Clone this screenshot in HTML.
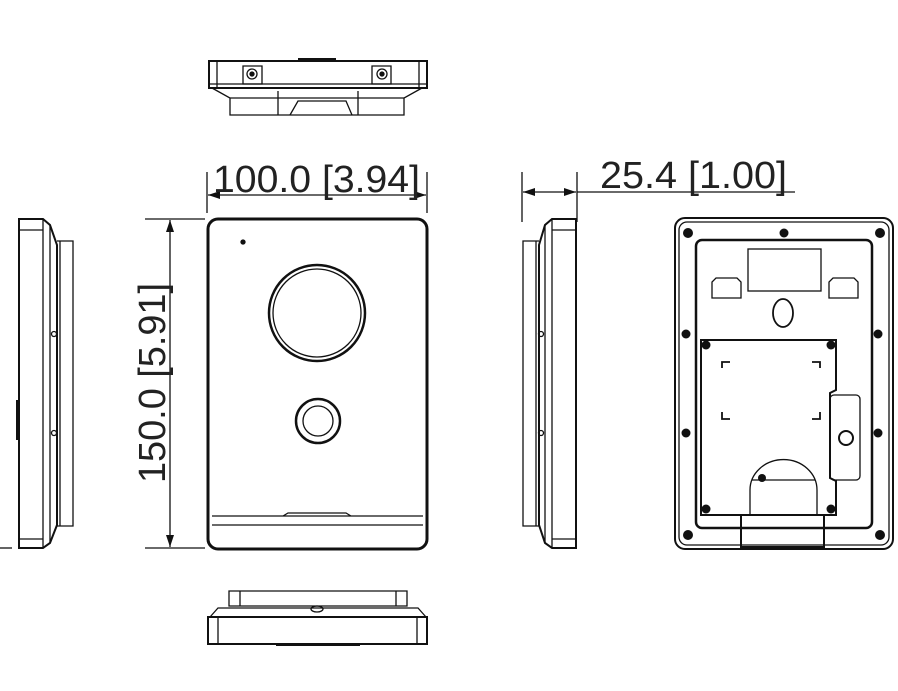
<!DOCTYPE html>
<html><head><style>html,body{margin:0;padding:0;background:#fff;width:898px;height:691px;overflow:hidden}</style></head>
<body>
<svg width="898" height="691" viewBox="0 0 898 691" xmlns="http://www.w3.org/2000/svg" fill="none" stroke="#111" stroke-width="1.3">
<defs>
<marker id="a" markerWidth="12" markerHeight="8" refX="12" refY="4" orient="auto" markerUnits="userSpaceOnUse"><path d="M0,0 L12,4 L0,8 Z" fill="#111" stroke="none"/></marker>
</defs>
<!-- top view -->
<path d="M209,61 H427 V88 H209 Z" stroke-width="2"/>
<line x1="217" y1="61" x2="217" y2="88"/><line x1="419" y1="61" x2="419" y2="88"/>
<line x1="209" y1="84" x2="427" y2="84"/>
<line x1="298" y1="59" x2="336" y2="59" stroke-width="2"/>
<path d="M212,88 L230,98 V115 H404 V98 L422,88"/>
<line x1="230" y1="98" x2="404" y2="98"/>
<path d="M278,91 V115 M358,91 V115 M290,115 L298,101 H346 L352,115" />
<path d="M243,66 H262 V84 H243 Z"/><circle cx="252" cy="74" r="5"/><circle cx="252" cy="74" r="2" fill="#111"/>
<path d="M372,66 H391 V84 H372 Z"/><circle cx="382" cy="74" r="5"/><circle cx="382" cy="74" r="2" fill="#111"/>
<!-- width dim -->
<line x1="207" y1="172" x2="207" y2="213"/><line x1="427" y1="172" x2="427" y2="213"/>
<line x1="250" y1="195" x2="208" y2="195" marker-end="url(#a)"/>
<line x1="380" y1="195" x2="426" y2="195" marker-end="url(#a)"/>
<line x1="250" y1="195" x2="380" y2="195"/>
<text x="213" y="192" font-family="Liberation Sans, sans-serif" font-size="38" fill="#222" stroke="none" textLength="207" lengthAdjust="spacingAndGlyphs">100.0 [3.94]</text>
<!-- front -->
<rect x="208" y="219" width="219" height="330" rx="10" stroke-width="3"/>
<path d="M212,516 H423 M212,525 H423 M283,516 L288,513 H346 L351,516"/>
<circle cx="317" cy="313" r="48" stroke-width="2.5"/><circle cx="317" cy="313" r="44"/>
<circle cx="318" cy="421" r="22" stroke-width="2.5"/><circle cx="318" cy="421" r="15"/>
<circle cx="243" cy="242" r="2" fill="#111"/>
<!-- height dim -->
<line x1="145" y1="219" x2="205" y2="219"/><line x1="145" y1="548" x2="205" y2="548"/>
<line x1="170" y1="300" x2="170" y2="220" marker-end="url(#a)"/>
<line x1="170" y1="460" x2="170" y2="547" marker-end="url(#a)"/>
<line x1="170" y1="300" x2="170" y2="460"/>
<text transform="translate(165,483) rotate(-90)" font-family="Liberation Sans, sans-serif" font-size="38" fill="#222" stroke="none" textLength="200" lengthAdjust="spacingAndGlyphs">150.0 [5.91]</text>
<!-- left side -->
<path d="M19,219 H43 L50,225 L57,245 V525 L50,543 L43,548 H19 Z" stroke-width="2"/>
<line x1="19" y1="230" x2="43" y2="230"/><line x1="19" y1="539" x2="43" y2="539"/>
<line x1="43" y1="219" x2="43" y2="548"/><line x1="50" y1="225" x2="50" y2="543"/>
<path d="M57,241 H73 V526 H57"/><line x1="60" y1="241" x2="60" y2="526"/>
<line x1="17" y1="400" x2="17" y2="440" stroke-width="2"/>
<circle cx="54" cy="334" r="2.5"/><circle cx="54" cy="433" r="2.5"/>
<!-- middle side -->
<path d="M576,219 H552 L545,225 L539,245 V525 L545,543 L552,548 H576 Z" stroke-width="2"/>
<line x1="552" y1="230" x2="576" y2="230"/><line x1="552" y1="539" x2="576" y2="539"/>
<line x1="552" y1="219" x2="552" y2="548"/><line x1="545" y1="225" x2="545" y2="543"/>
<path d="M539,241 H523 V526 H539"/><line x1="536" y1="241" x2="536" y2="526"/>
<circle cx="541" cy="334" r="2.5"/><circle cx="541" cy="433" r="2.5"/>
<!-- depth dim -->
<line x1="522" y1="172" x2="522" y2="222"/><line x1="577" y1="172" x2="577" y2="222"/>
<line x1="549" y1="192" x2="523" y2="192" marker-end="url(#a)"/>
<line x1="549" y1="192" x2="576" y2="192" marker-end="url(#a)"/>
<line x1="577" y1="192" x2="795" y2="192"/>
<text x="600" y="188" font-family="Liberation Sans, sans-serif" font-size="38" fill="#222" stroke="none" textLength="187" lengthAdjust="spacingAndGlyphs">25.4 [1.00]</text>
<!-- back view -->
<rect x="675" y="218" width="218" height="331" rx="10" stroke-width="2"/>
<rect x="679" y="222" width="210" height="323" rx="8"/>
<rect x="696" y="240" width="176" height="288" rx="6" stroke-width="2.5"/>
<rect x="748" y="249" width="73" height="42"/>
<path d="M712,298 V282 L716,278 H737 L741,282 V298 Z M829,298 V282 L833,278 H854 L858,282 V298 Z"/>
<ellipse cx="783" cy="313" rx="10" ry="14" stroke-width="1.8"/>
<path d="M701,340 H836 V390 L830,393 V478 L836,481 V515 H701 Z" stroke-width="2"/>
<rect x="830" y="395" width="30" height="85" rx="4"/>
<circle cx="846" cy="438" r="7" stroke-width="2"/>
<path d="M722,368 V362 H730 M812,362 H820 V368 M722,412 V419 H730 M812,419 H820 V412" stroke-width="1.8"/>
<path d="M750,515 V490 A33,30 0 0 1 817,490 V515 M752,480 H815"/>
<path d="M741,515 H824 V547 H741 Z" stroke-width="2"/>
<g fill="#111" stroke="none">
<circle cx="688" cy="233" r="5"/><circle cx="880" cy="233" r="5"/><circle cx="688" cy="535" r="5"/><circle cx="880" cy="535" r="5"/>
<circle cx="784" cy="233" r="4.5"/><circle cx="686" cy="334" r="4.5"/><circle cx="878" cy="334" r="4.5"/>
<circle cx="686" cy="433" r="4.5"/><circle cx="878" cy="433" r="4.5"/>
<circle cx="706" cy="345" r="4.5"/><circle cx="831" cy="345" r="4.5"/><circle cx="706" cy="509" r="4.5"/><circle cx="831" cy="509" r="4.5"/>
<circle cx="762" cy="478" r="4"/>
</g>
<!-- bottom view -->
<path d="M229,591 H407 V606 H229 Z"/>
<line x1="240" y1="591" x2="240" y2="606"/><line x1="396" y1="591" x2="396" y2="606"/>
<path d="M210,617 L218,608 H418 L426,617"/>
<rect x="208" y="617" width="219" height="27" stroke-width="2"/>
<line x1="218" y1="617" x2="218" y2="644"/><line x1="417" y1="617" x2="417" y2="644"/>
<line x1="276" y1="645" x2="360" y2="645" stroke-width="2"/>
<ellipse cx="317" cy="609" rx="6" ry="3"/>
<line x1="0" y1="548" x2="12" y2="548"/>
</svg>
</body></html>
